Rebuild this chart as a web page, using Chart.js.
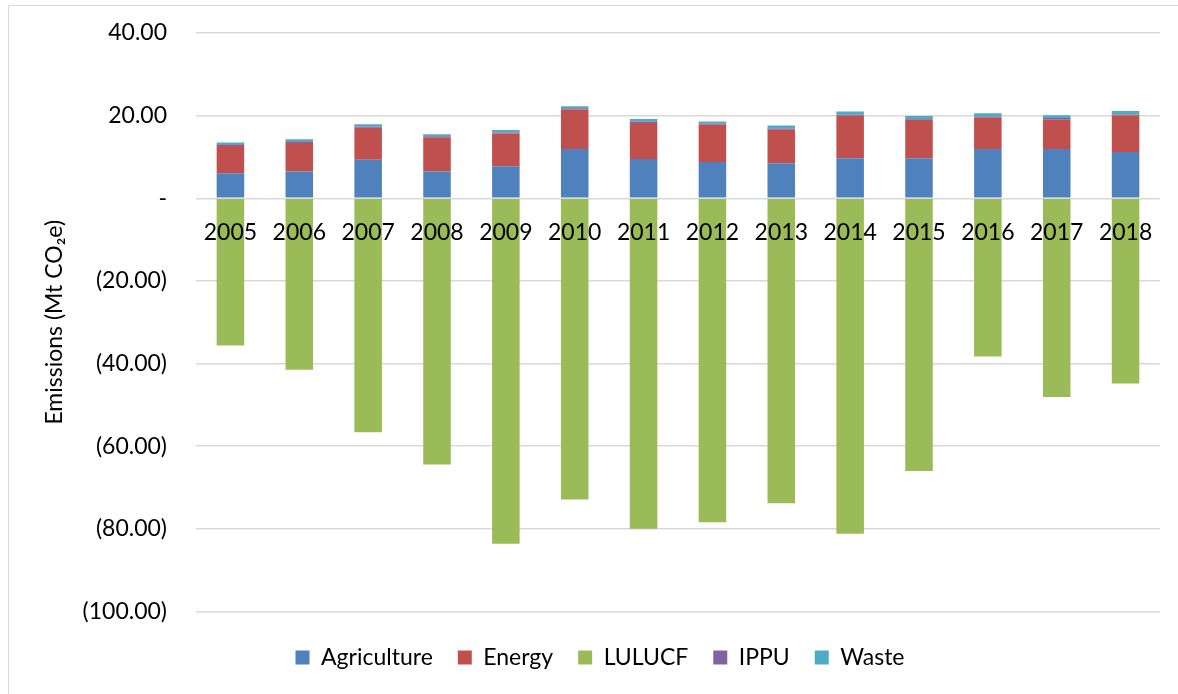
<!DOCTYPE html>
<html>
<head>
<meta charset="utf-8">
<script src="https://cdn.jsdelivr.net/npm/chart.js@4.4.0/dist/chart.umd.min.js"></script>
<style>
  body { margin: 0; background: #fff; }
  #wrap { position: relative; width: 1178px; height: 694px; }
  #frame { position: absolute; left: 8px; top: 5px; right: -2px; bottom: -2px; border: 1.5px solid #d9d9d9; }
  canvas { position: absolute; left: 0; top: 0; }
</style>
</head>
<body>
<div id="wrap">
  <div id="frame"></div>
  <canvas id="myChart"></canvas>
</div>
<script>
const years = ["2005", "2006", "2007", "2008", "2009", "2010", "2011", "2012", "2013", "2014", "2015", "2016", "2017", "2018"];
const agriculture = [6.05, 6.5, 9.3, 6.5, 7.75, 11.9, 9.5, 8.8, 8.5, 9.7, 9.7, 11.9, 11.95, 11.2];
const energy =      [6.6, 6.9, 7.8, 8.3, 7.95, 9.6, 8.7, 9.0, 8.1, 10.3, 9.3, 7.6, 7.05, 8.9];
const lulucf =      [-35.6, -41.5, -56.6, -64.4, -83.6, -72.9, -80.0, -78.4, -73.8, -81.2, -66.0, -38.3, -48.1, -44.8];
const ippu =        [0.4, 0.4, 0.3, 0.2, 0.2, 0.3, 0.4, 0.3, 0.3, 0.2, 0.2, 0.3, 0.4, 0.2];
const waste =       [0.45, 0.5, 0.5, 0.5, 0.6, 0.5, 0.6, 0.5, 0.7, 0.8, 0.7, 0.8, 0.7, 0.8];

const yMin = -100, yMax = 40, yStep = 20;

function fmt(v) {
    if (v === 0) return "-";
    const s = Math.abs(v).toFixed(2);
    return v < 0 ? "(" + s + ")" : s;
}

const font = "Lato";
const fs = 23;

const bar = (label, data, color) => ({
    label: label,
    data: data,
    backgroundColor: color,
    borderWidth: 0,
    categoryPercentage: 1,
    barPercentage: 0.4,
    stack: "s"
});

const myChart = new Chart("myChart", {
    type: "bar",
    data: {
        labels: years,
        datasets: [
            bar("Agriculture", agriculture, "#4F81BD"),
            bar("Energy", energy, "#C0504D"),
            bar("LULUCF", lulucf, "#9BBB59"),
            bar("IPPU", ippu, "#8064A2"),
            bar("Waste", waste, "#4BACC6")
        ]
    },
    options: {
        responsive: true,
        maintainAspectRatio: false,
        animation: false,
        layout: { padding: { left: 40, top: 33, right: 18, bottom: 15 } },
        plugins: {
            tooltip: { enabled: false },
            legend: {
                position: "bottom",
                labels: {
                    font: { family: font, size: fs },
                    color: "#000",
                    boxWidth: 14,
                    boxHeight: 14,
                    padding: 25
                }
            }
        },
        scales: {
            x: {
                stacked: true,
                position: { y: 0 },
                grid: { display: false, drawTicks: false },
                border: { display: false },
                ticks: { z: 1, font: { family: font, size: fs }, color: "#000", padding: 20, maxRotation: 0 }
            },
            x2: {
                position: "bottom",
                display: true,
                grid: { display: false, drawTicks: false },
                border: { display: false },
                ticks: { display: false },
                afterFit: s => { s.height = 9.5; }
            },
            y: {
                stacked: true,
                min: yMin,
                max: yMax,
                afterFit: s => { s.width = 156; },
                grid: { color: "#d9d9d9", lineWidth: 1.5, drawTicks: true, tickLength: 26, tickColor: "rgba(0,0,0,0)" },
                border: { display: false },
                ticks: {
                    stepSize: yStep,
                    padding: 3,
                    font: { family: font, size: fs },
                    color: "#000",
                    callback: v => fmt(v)
                },
                title: {
                    display: true,
                    text: "Emissions (Mt CO₂e)",
                    font: { family: font, size: fs },
                    color: "#000",
                    padding: { top: 1, bottom: 0 }
                }
            }
        }
    }
});
</script>
</body>
</html>
